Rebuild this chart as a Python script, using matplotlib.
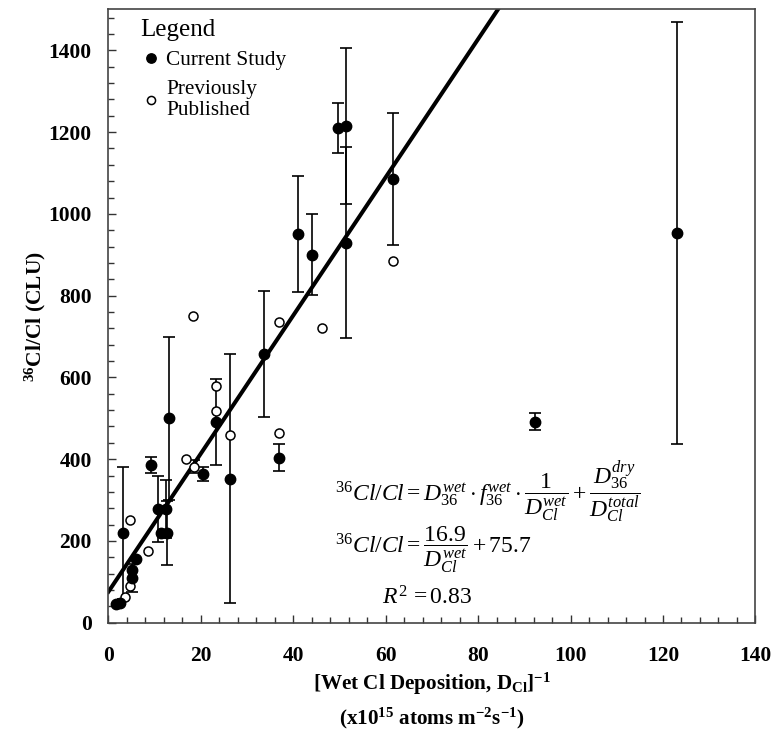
import numpy as np
import matplotlib
matplotlib.use("Agg")
import matplotlib.pyplot as plt
from matplotlib.ticker import MultipleLocator

#----------- Data -----------#
# Current study (filled), x = 1/wet Cl deposition, y = 36Cl/Cl (CLU)
cur_x = [1.6, 2.5, 3.1, 5.0, 5.2, 6.0, 9.2, 10.8, 12.4, 11.4, 12.6, 13.2, 20.5,
         23.2, 26.3, 33.7, 37.0, 41.0, 44.0, 49.7, 51.3, 51.3, 61.5, 92.3, 123.1]
cur_y = [46, 49, 220, 129, 110, 156, 386, 278, 278, 219, 219, 500, 364,
         491, 352, 657, 404, 951, 900, 1211, 1214, 930, 1086, 492, 953]
cur_err = [0, 0, 162, 0, 34, 0, 20, 80, 70, 0, 78, 200, 17,
           106, 305, 155, 32, 141, 99, 61, 191, 234, 161, 20, 517]

# Previously published (open)
prev_x = [3.6, 4.65, 4.65, 8.5, 16.8, 18.5, 18.35, 23.2, 23.2, 26.3, 37.0, 37.0, 46.2, 61.5]
prev_y = [64, 90, 251, 176, 400, 382, 751, 580, 519, 460, 735, 465, 721, 884]
prev_err = [0, 0, 0, 0, 0, 16, 0, 0, 0, 0, 0, 0, 0, 0]

# regression
slope = 16.9
intercept = 75.7

#----------- Fonts -----------#
plt.rcParams['font.family'] = ['Liberation Serif', 'DejaVu Serif']
plt.rcParams['mathtext.fontset'] = 'custom'
plt.rcParams['mathtext.rm'] = 'Liberation Serif'
plt.rcParams['mathtext.it'] = 'Liberation Serif:italic'
plt.rcParams['mathtext.bf'] = 'Liberation Serif:bold'

fig = plt.figure(figsize=(7.8, 7.3), dpi=100)
ax = fig.add_axes([0.139, 0.147, 0.8295, 0.840])

# regression line
xl = np.array([0, 140])
ax.plot(xl, slope * xl + intercept, color='black', lw=2.9, zorder=2)

cx = np.array(cur_x); cy = np.array(cur_y); ce = np.array(cur_err)
px = np.array(prev_x); py = np.array(prev_y); pe = np.array(prev_err)

m = ce > 0
ax.errorbar(cx[m], cy[m], yerr=ce[m], fmt='none', ecolor='black',
            elinewidth=1.2, capsize=4.5, capthick=1.2, zorder=3)
m2 = pe > 0
ax.errorbar(px[m2], py[m2], yerr=pe[m2], fmt='none', ecolor='black',
            elinewidth=1.2, capsize=4.5, capthick=1.2, zorder=3)

ax.plot(px, py, 'o', ms=6.5, mfc='white', mec='black', mew=1.1,
        ls='none', zorder=4, label='Previously\nPublished')
ax.plot(cx, cy, 'o', ms=7.5, mfc='black', mec='black',
        ls='none', zorder=5, label='Current Study')

ax.set_xlim(0, 140)
ax.set_ylim(0, 1500)
ax.xaxis.set_major_locator(MultipleLocator(20))
ax.xaxis.set_minor_locator(MultipleLocator(4))
ax.yaxis.set_major_locator(MultipleLocator(200))
ax.yaxis.set_minor_locator(MultipleLocator(40))
ax.set_yticks([0, 200, 400, 600, 800, 1000, 1200, 1400])
ax.tick_params(which='both', direction='in', top=False, right=False,
               labelsize=15.5, width=1.0, color='#333333')
ax.tick_params(which='major', length=6)
ax.tick_params(which='minor', length=4.5)
ax.tick_params(axis='x', pad=17)
ax.tick_params(axis='y', pad=12)
for lab in ax.get_xticklabels() + ax.get_yticklabels():
    lab.set_fontweight('bold')
for s in ax.spines.values():
    s.set_linewidth(1.2)
    s.set_color('#444444')

ax.set_xlabel('[Wet Cl Deposition, D$_{\\mathbf{Cl}}$]$^{\\mathbf{-1}}$\n'
              '(x10$^{\\mathbf{15}}$ atoms m$^{\\mathbf{-2}}$s$^{\\mathbf{-1}}$)',
              fontsize=15.2, fontweight='bold', labelpad=3, linespacing=1.5)
ax.set_ylabel('$^{\\mathbf{36}}$Cl/Cl (CLU)', fontsize=15.5, fontweight='bold',
              labelpad=0)

# legend
h, l = ax.get_legend_handles_labels()
leg = ax.legend(h[::-1], l[::-1], loc='upper left', bbox_to_anchor=(0.03, 1.006),
                frameon=False, title='Legend', fontsize=15.3, title_fontsize=18,
                alignment='left', handletextpad=0.2, handlelength=1.0,
                borderaxespad=0.2, labelspacing=0.45, markerscale=0.9)
for t in leg.get_texts():
    t.set_linespacing(1.2)

# equations
ax.text(0.350, 0.213,
        r'$^{36}Cl/Cl = D_{36}^{wet}\cdot f_{36}^{wet}\cdot\dfrac{1}{D_{Cl}^{wet}}'
        r' + \dfrac{D_{36}^{dry}}{D_{Cl}^{total}}$',
        transform=ax.transAxes, fontsize=17, ha='left', va='center')
ax.text(0.350, 0.119, r'$^{36}Cl/Cl = \dfrac{16.9}{D_{Cl}^{wet}} + 75.7$',
        transform=ax.transAxes, fontsize=17, ha='left', va='center')
ax.text(0.4227, 0.040, r'$R^2\, = 0.83$',
        transform=ax.transAxes, fontsize=17, ha='left', va='center')

fig.savefig('out.png', dpi=100)
